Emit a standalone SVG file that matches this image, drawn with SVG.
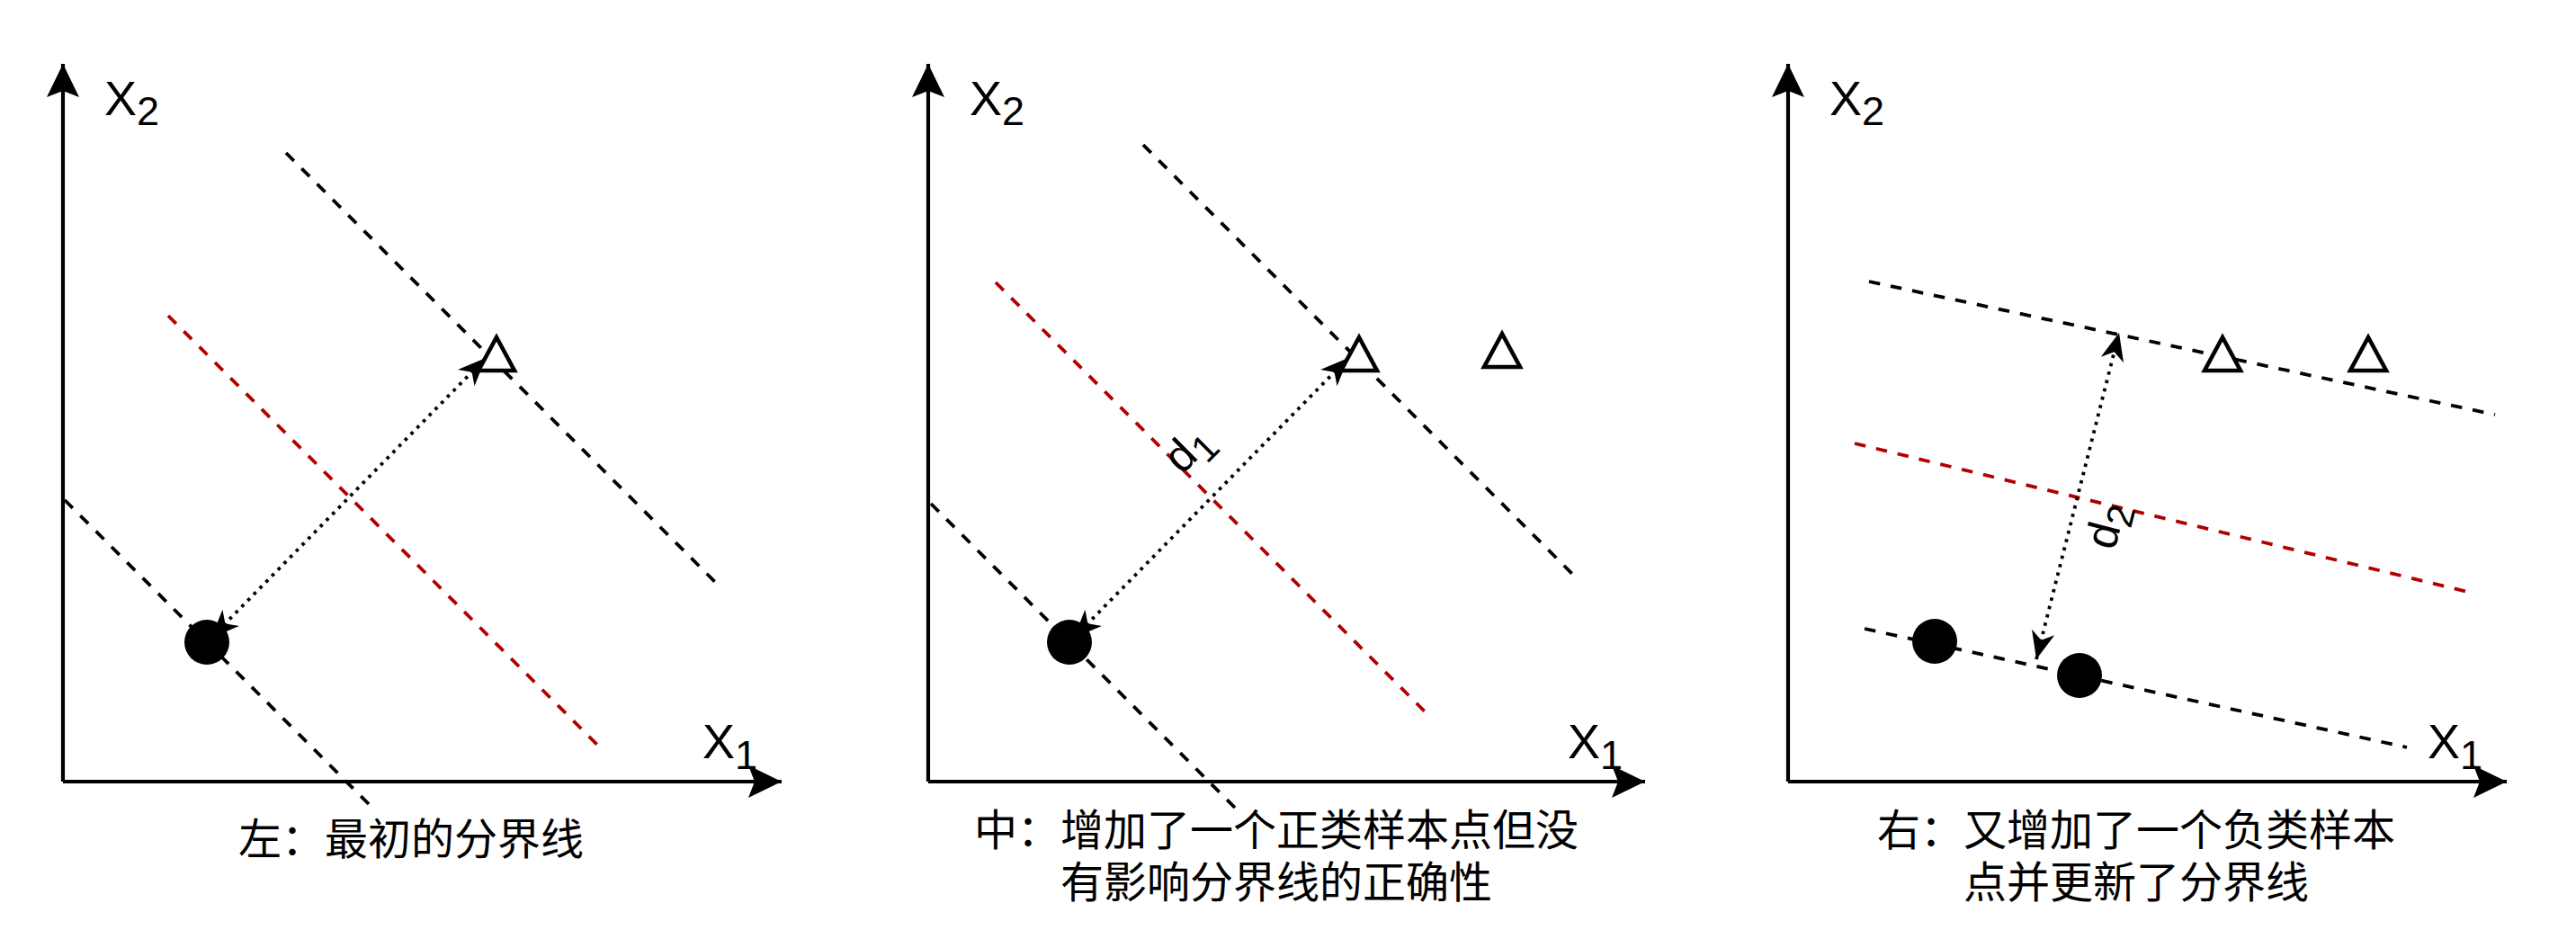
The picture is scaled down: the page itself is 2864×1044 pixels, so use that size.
<svg xmlns="http://www.w3.org/2000/svg" width="2864" height="1044" viewBox="0 0 2864 1044">
  <defs>
    <marker id="axisArrow" markerUnits="userSpaceOnUse" viewBox="-38 -19 40 38" markerWidth="40" markerHeight="38" refX="0" refY="0" orient="auto">
      <path d="M0,0 L-37,-18 L-30,0 L-37,18 Z" fill="#000"/>
    </marker>
    <marker id="dotArrow" markerUnits="userSpaceOnUse" viewBox="-32 -14 34 28" markerWidth="34" markerHeight="28" refX="0" refY="0" orient="auto-start-reverse">
      <path d="M0,0 L-31,-13 L-22,0 L-31,13 Z" fill="#000"/>
    </marker>
  </defs>
  <style>
    .axis { stroke:#000; stroke-width:4.2; fill:none; marker-end:url(#axisArrow); }
    .margin { stroke:#000; stroke-width:3.8; stroke-dasharray:12.5 12; fill:none; }
    .boundary { stroke:#B20000; stroke-width:3.8; stroke-dasharray:12.5 12; fill:none; }
    .dist { stroke:#000; stroke-width:3.8; stroke-dasharray:3.6 6; fill:none; marker-start:url(#dotArrow); marker-end:url(#dotArrow); }
    .neg { fill:#000; }
    .pos { fill:#fff; stroke:#000; stroke-width:4.6; stroke-linejoin:miter; }
    .lbl { font-family:"Liberation Sans", Arial, sans-serif; fill:#000; }
    .cap { font-family:"Noto Sans CJK SC", "Noto Sans", sans-serif; font-size:48px; fill:#000; text-anchor:middle; }
  </style>

  <g id="connectors">
    <!-- panel 1 -->
    <path class="axis" d="M70,869 L70,71"/>
    <path class="axis" d="M70,869 L869,869"/>
    <path class="margin" d="M318,170 L798,650"/>
    <path class="boundary" d="M187,351 L666,830"/>
    <path class="margin" d="M72,556 L410,894"/>
    <path class="dist" d="M235,709 L540,398"/>
    <!-- panel 2 -->
    <path class="axis" d="M1032,869 L1032,71"/>
    <path class="axis" d="M1032,869 L1829,869"/>
    <path class="margin" d="M1271,161 L1752,642"/>
    <path class="boundary" d="M1107,314 L1590,797"/>
    <path class="margin" d="M1035,560 L1377,902"/>
    <path class="dist" d="M1194,709 L1499,398"/>
    <!-- panel 3 -->
    <path class="axis" d="M1988,869 L1988,71"/>
    <path class="axis" d="M1988,869 L2787,869"/>
    <path class="margin" d="M2078,313 L2774,461"/>
    <path class="boundary" d="M2062,493 L2752,660"/>
    <path class="margin" d="M2073,699 L2676,831"/>
    <path class="dist" d="M2264,733 L2356,370"/>
  </g>

  <!-- panel 1 nodes -->
  <g id="p1-neg1"><circle class="neg" cx="230" cy="714" r="25"/></g>
  <g id="p1-pos1"><path class="pos" d="M552,375 L572,412 L532,412 Z"/></g>
  <g id="p1-x2"><text class="lbl" x="116" y="128" font-size="54">X<tspan font-size="45" dy="11">2</tspan></text></g>
  <g id="p1-x1"><text class="lbl" x="781" y="843" font-size="54">X<tspan font-size="45" dy="12">1</tspan></text></g>
  <g id="p1-caption"><text class="cap" x="457" y="950">左：最初的分界线</text></g>

  <!-- panel 2 nodes -->
  <g id="p2-neg1"><circle class="neg" cx="1189" cy="714" r="25"/></g>
  <g id="p2-pos1"><path class="pos" d="M1511,375 L1531,412 L1491,412 Z"/></g>
  <g id="p2-pos2"><path class="pos" d="M1670,371 L1690,408 L1650,408 Z"/></g>
  <g id="p2-x2"><text class="lbl" x="1078" y="128" font-size="54">X<tspan font-size="45" dy="11">2</tspan></text></g>
  <g id="p2-x1"><text class="lbl" x="1743" y="843" font-size="54">X<tspan font-size="45" dy="12">1</tspan></text></g>
  <g id="p2-d1"><text class="lbl" transform="translate(1321,499) rotate(-45)" x="0" y="16" font-size="50" text-anchor="middle">d<tspan font-size="42" dy="11">1</tspan></text></g>
  <g id="p2-caption">
    <text class="cap" x="1419" y="940">中：增加了一个正类样本点但没</text>
    <text class="cap" x="1419" y="998">有影响分界线的正确性</text>
  </g>

  <!-- panel 3 nodes -->
  <g id="p3-neg1"><circle class="neg" cx="2151" cy="713" r="25"/></g>
  <g id="p3-neg2"><circle class="neg" cx="2312" cy="751" r="25"/></g>
  <g id="p3-pos1"><path class="pos" d="M2471,375 L2491,412 L2451,412 Z"/></g>
  <g id="p3-pos2"><path class="pos" d="M2633,375 L2653,412 L2613,412 Z"/></g>
  <g id="p3-x2"><text class="lbl" x="2034" y="128" font-size="54">X<tspan font-size="45" dy="11">2</tspan></text></g>
  <g id="p3-x1"><text class="lbl" x="2699" y="843" font-size="54">X<tspan font-size="45" dy="12">1</tspan></text></g>
  <g id="p3-d2"><text class="lbl" transform="translate(2342,584) rotate(-75.5)" x="0" y="16" font-size="50" text-anchor="middle">d<tspan font-size="42" dy="11">2</tspan></text></g>
  <g id="p3-caption">
    <text class="cap" x="2375" y="940">右：又增加了一个负类样本</text>
    <text class="cap" x="2375" y="998">点并更新了分界线</text>
  </g>
</svg>
